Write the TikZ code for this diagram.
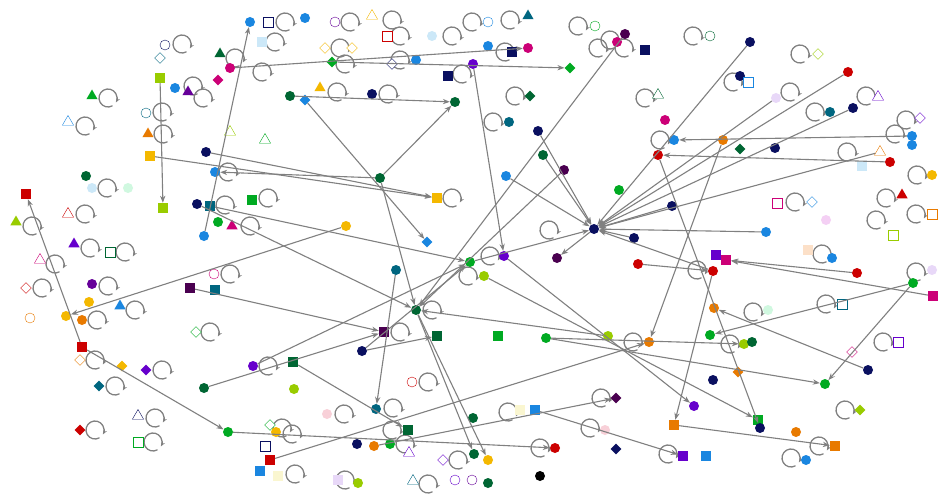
\documentclass[tikz,border=0pt]{standalone}
\usetikzlibrary{shapes.geometric,arrows.meta}
\definecolor{bl}{HTML}{1A86E0}\definecolor{nv}{HTML}{0A1060}\definecolor{dg}{HTML}{006633}
\definecolor{rd}{HTML}{CC0000}\definecolor{yg}{HTML}{99CC00}\definecolor{or}{HTML}{E87A00}
\definecolor{yl}{HTML}{F4B800}\definecolor{cr}{HTML}{CC0077}\definecolor{pu}{HTML}{660099}
\definecolor{vi}{HTML}{6600CC}\definecolor{dp}{HTML}{4A0050}\definecolor{tl}{HTML}{006680}
\definecolor{gr}{HTML}{00AA22}\definecolor{lb}{HTML}{CCE8F8}\definecolor{pk}{HTML}{F8D0D8}
\definecolor{lv}{HTML}{E8D8F8}\definecolor{mint}{HTML}{D0F8E0}\definecolor{peach}{HTML}{FCE0C8}
\definecolor{lpk}{HTML}{F4D0F4}\definecolor{ly}{HTML}{FAF6D0}\definecolor{edgec}{HTML}{808080}
\tikzset{
 mk/.style={inner sep=0pt,minimum size=10pt},
 mc/.style={mk,circle,fill=#1},
 ms/.style={mk,rectangle,minimum size=10pt,fill=#1},
 md/.style={mk,diamond,minimum size=11pt,fill=#1},
 mt/.style={mk,regular polygon,regular polygon sides=3,minimum size=13pt,fill=#1},
 oc/.style={mk,circle,draw=#1,fill=white},
 os/.style={mk,rectangle,draw=#1,fill=white},
 od/.style={mk,diamond,minimum size=11pt,draw=#1,fill=white},
 ot/.style={mk,regular polygon,regular polygon sides=3,minimum size=13pt,draw=#1,fill=white},
 lp/.style={draw=edgec,line width=1.3pt,-{Stealth[length=5pt]}},
 ed/.style={draw=edgec,line width=1.1pt,-{Stealth[length=7pt]}}
}
\begin{document}
\begin{tikzpicture}[x=1pt,y=-1pt]
\useasboundingbox[fill=white] (0,0) rectangle (950,500);
\foreach \x/\y in {285/22,350/22,392/20,472/22,510/20,578/26,598/48,693/36,800/54,182/44,235/58,275/42,340/48,400/36,452/36,505/52,193/86,203/98,262/72,337/92,345/64,400/60,462/74,388/94,515/96,493/122,108/98,85/126,162/112,163/134,107/188,228/172,225/205,268/198,250/226,452/198,32/226,85/214,90/248,125/252,55/264,42/288,108/286,97/320,135/310,230/274,210/332,95/360,162/370,115/386,95/430,155/418,153/442,268/366,400/332,432/310,468/276,490/256,633/342,549/230,697/270,822/254,795/202,876/220,886/198,916/214,916/272,826/304,753/312,730/344,883/342,845/410,819/446,791/458,668/454,601/398,590/428,540/448,508/412,392/430,393/408,428/382,405/444,458/460,428/484,345/480,344/414,282/428,292/434,295/474,645/98,733/82,790/92,815/112,866/96,906/120,895/134,847/152,660/140,917/175,610/40,624/48}
  \draw[lp] ([shift={(\x,\y)}]60:9) arc (60:390:9);
\foreach \s/\x/\y/\c in {mc/250/22/bl,os/268/22/nv,mc/305/18/bl,oc/335/22/pu,ot/372/16/yl,oc/488/22/bl,mt/528/16/tl,oc/595/26/gr,mc/617/42/cr,mc/625/34/dp,ms/645/50/nv,oc/710/36/dg,mc/750/42/nv,od/818/54/yg,mc/848/72/rd,oc/165/45/nv,od/160/58/tl,mt/220/54/dg,ms/262/42/lb,od/325/48/yl,od/352/48/yl,os/387/36/rd,mc/432/36/lb,mc/488/46/bl,ms/512/52/nv,mc/528/48/cr,ms/160/78/yg,mc/175/88/bl,mt/188/92/pu,md/218/80/cr,mc/230/68/cr,mc/290/96/dg,md/305/100/bl,mt/320/88/yl,md/332/62/gr,od/392/64/nv,mc/416/60/bl,ms/448/76/nv,mc/473/64/vi,mc/455/102/dg,mc/372/94/nv,md/570/68/gr,md/530/96/dg,mc/509/122/tl,mt/92/96/gr,ot/68/122/bl,oc/146/113/tl,mt/148/134/or,ms/150/156/yl,ms/163/208/yg,mc/86/176/dg,mc/92/188/lb,mc/128/188/mint,mc/206/152/nv,ot/230/132/yg,ot/265/140/gr,mc/215/172/bl,mc/197/204/nv,ms/210/206/tl,ms/252/200/gr,mc/218/222/gr,mc/204/236/bl,mt/232/226/cr,mc/380/178/dg,ms/437/198/yl,md/427/242/bl,mc/346/226/yl,mc/396/270/tl,ms/26/194/rd,mt/16/222/yg,ot/68/214/rd,mt/74/244/vi,os/110/252/dg,ot/40/260/cr,od/26/288/rd,mc/92/284/pu,oc/30/318/or,mc/66/316/yl,mc/89/302/yl,mc/82/320/or,mt/120/306/bl,ms/190/288/dp,ms/215/290/tl,oc/214/274/cr,od/196/332/gr,ms/82/347/rd,od/80/360/or,md/122/366/yl,md/146/370/vi,md/99/386/tl,md/80/430/rd,ot/138/416/nv,os/138/442/gr,mc/204/388/dg,mc/253/366/vi,ms/293/362/dg,mc/294/389/yg,mc/362/351/nv,ms/384/332/dp,mc/416/310/dg,ms/437/336/dg,mc/470/262/gr,mc/484/276/yg,mc/504/256/vi,ms/498/336/gr,mc/546/338/gr,mc/608/336/yg,mc/649/342/or,mc/557/258/dp,mc/594/229/nv,mc/619/190/gr,mc/634/238/nv,mc/672/206/nv,mc/638/264/rd,mc/713/271/rd,ms/716/255/vi,ms/726/260/cr,mc/857/273/rd,mc/766/232/bl,ms/808/250/peach,mc/832/258/bl,os/777/203/cr,od/812/202/bl,mc/826/220/lpk,os/893/235/yg,mt/902/195/rd,os/932/214/or,mc/932/270/lv,mc/913/283/gr,ms/933/296/cr,os/842/304/tl,mc/768/310/mint,mc/714/308/or,mc/710/335/gr,mc/744/344/yg,mc/752/342/dg,od/852/352/cr,mc/868/370/nv,os/898/342/vi,mc/713/380/nv,md/738/372/or,mc/825/384/gr,mc/694/406/vi,md/860/410/yg,ms/758/420/gr,mc/760/428/nv,mc/796/432/or,ms/835/446/or,mc/806/460/bl,ms/706/456/bl,ms/683/456/vi,ms/674/425/or,md/616/398/dp,mc/605/430/pk,md/616/449/nv,mc/555/448/rd,ms/535/410/bl,ms/520/410/ly,mc/473/418/dg,mc/474/454/dg,mc/488/460/yl,mc/488/483/dg,mc/540/476/black,ms/408/430/dg,mc/376/409/tl,oc/412/382/rd,mc/374/446/or,mc/357/444/nv,mc/390/444/gr,ot/409/453/vi,od/443/460/vi,oc/455/480/vi,oc/472/480/pu,ot/413/481/tl,mc/358/483/yg,ms/338/480/lv,mc/327/414/pk,mc/276/432/yl,os/265/446/nv,od/270/425/gr,mc/228/432/gr,ms/270/460/rd,ms/260/471/bl,ms/278/476/ly,ot/658/95/dg,mc/665/120/cr,mc/740/76/nv,os/748/82/bl,mc/776/98/lv,mc/830/112/tl,mc/853/108/nv,ot/878/97/vi,od/920/118/vi,mc/912/136/bl,mc/912/145/bl,ot/880/152/or,mc/890/162/rd,ms/862/166/lb,mc/775/148/nv,md/740/149/dg,mc/723/140/or,mc/674/140/bl,mc/658/155/rd,mc/932/175/yl,mc/506/176/bl,mc/538/131/nv,mc/543/155/dg,mc/564/170/dp}
  \node[\s=\c] (p\x-\y) at (\x,\y) {};
\foreach \a/\b in {160-78/163-208,150-156/437-198,206-152/437-198,380-178/455-102,380-178/215-172,380-178/416-310,305-100/427-242,197-204/416-310,210-206/470-262,204-236/250-22,82-347/26-194,346-226/66-316,190-288/384-332,82-347/228-432,204-388/384-332,293-362/408-430,362-351/470-262,416-310/488-460,416-310/474-454,396-270/376-409,473-64/504-256,538-131/594-229,750-42/594-229,848-72/594-229,853-108/594-229,890-162/658-155,912-136/674-140,723-140/649-342,658-155/760-428,857-273/726-260,638-264/713-271,913-283/710-335,913-283/825-384,546-338/825-384,535-410/683-456,674-425/835-446,270-460/649-342,374-446/616-398,228-432/555-448,933-296/726-260,290-96/455-102,230-68/528-48,332-62/570-68,543-155/594-229,594-229/557-258,625-34/416-310,506-176/594-229,672-206/594-229,634-238/594-229,713-271/594-229,766-232/594-229,470-262/594-229,713-271/674-425,608-336/416-310,362-351/437-336,253-366/470-262,776-98/594-229,880-152/594-229,868-370/714-308,484-276/758-420,504-256/694-406,564-170/416-310,546-338/744-344}
  \draw[ed] (p\a) -- (p\b);
\end{tikzpicture}
\end{document}
